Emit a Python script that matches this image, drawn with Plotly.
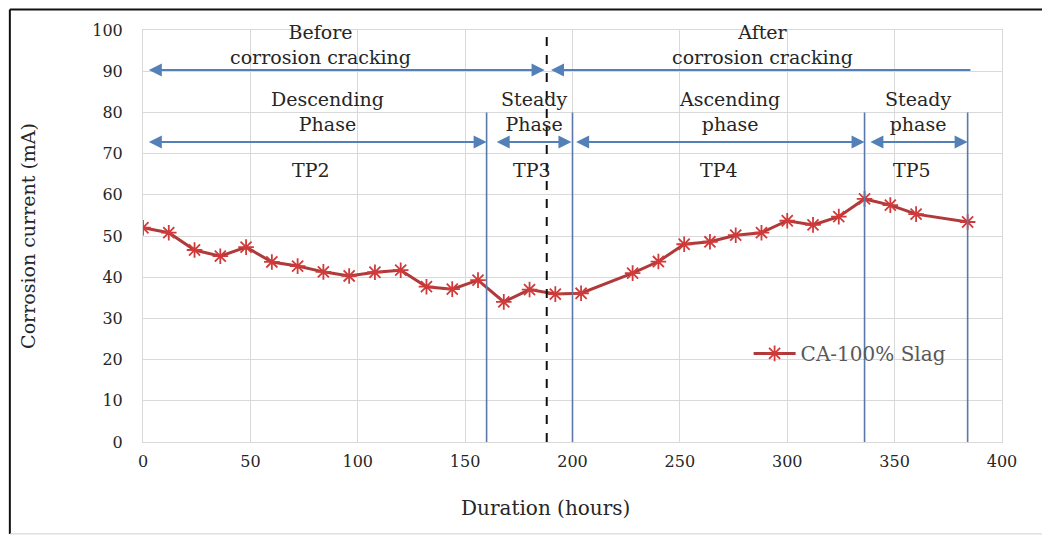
import plotly.graph_objects as go

# ---- data ----
hours = [0, 12, 24, 36, 48, 60, 72, 84, 96, 108, 120, 132, 144, 156, 168, 180,
         192, 204, 228, 240, 252, 264, 276, 288, 300, 312, 324, 336, 348, 360, 384]
current = [52.0, 50.8, 46.6, 45.1, 47.3, 43.7, 42.7, 41.3, 40.3, 41.2, 41.7, 37.7,
           37.1, 39.3, 34.0, 37.0, 35.9, 36.1, 41.0, 43.8, 48.0, 48.6, 50.2, 50.8,
           53.7, 52.7, 54.7, 59.0, 57.5, 55.3, 53.4]
series_name = "CA-100% Slag"
x_ticks = [0, 50, 100, 150, 200, 250, 300, 350, 400]
y_ticks = [0, 10, 20, 30, 40, 50, 60, 70, 80, 90, 100]
phase_bounds = [160, 200, 336, 384]
crack_time = 188

FONT = "DejaVu Serif"
TXT = "#262626"
BLUE = "#5480B8"
LINE_RED = "#B03A3A"

fig = go.Figure()
fig.add_trace(go.Scatter(
    x=hours, y=current, mode="lines+markers", name=series_name,
    line=dict(color=LINE_RED, width=3),
    marker=dict(symbol="asterisk-open", size=13, color="#D03A3A",
                line=dict(color="#D03A3A", width=1.8)),
))

shapes = []
for b in phase_bounds:
    shapes.append(dict(type="line", xref="x", yref="y", x0=b, x1=b, y0=0, y1=80,
                       line=dict(color="#5A78A8", width=1.6)))
shapes.append(dict(type="line", xref="x", yref="y", x0=crack_time, x1=crack_time,
                   y0=0, y1=100, line=dict(color="#111111", width=2, dash="dash")))
# outer frame (figure border)
shapes.append(dict(type="line", xref="paper", yref="paper", x0=-0.155, x1=-0.155,
                   y0=-0.223, y1=1.05, line=dict(color="#111111", width=2)))
shapes.append(dict(type="line", xref="paper", yref="paper", x0=-0.155, x1=1.07,
                   y0=1.05, y1=1.05, line=dict(color="#111111", width=2)))
shapes.append(dict(type="line", xref="paper", yref="paper", x0=-0.155, x1=1.07,
                   y0=-0.223, y1=-0.223, line=dict(color="#D0D0D0", width=1)))

annotations = []

def arrow(x_head, x_tail, y, both=True):
    annotations.append(dict(
        x=x_head, y=y, ax=x_tail, ay=y, xref="x", yref="y", axref="x", ayref="y",
        text="", showarrow=True, arrowhead=2, arrowsize=1.3, arrowwidth=2,
        arrowcolor=BLUE, arrowside="end+start" if both else "end",
        startarrowhead=2, startarrowsize=1.3, standoff=0, startstandoff=0))

arrow(187, 2, 90.3)
arrow(190, 386, 90.3, both=False)
arrow(160, 2, 72.8)
arrow(199.5, 164, 72.8)
arrow(336, 201, 72.8)
arrow(384, 338, 72.8)

def label(x, y, text):
    annotations.append(dict(x=x, y=y, xref="x", yref="y", text=text, showarrow=False,
                            font=dict(family=FONT, size=19, color=TXT),
                            align="center", xanchor="center", yanchor="middle"))

label(82.5, 96.4, "Before<br>corrosion cracking")
label(288.5, 96.4, "After<br>corrosion cracking")
label(86, 80.2, "Descending<br>Phase")
label(182, 80.2, "Steady<br>Phase")
label(273, 80.2, "Ascending<br>phase")
label(361, 80.2, "Steady<br>phase")
label(78, 66, "TP2")
label(181, 66, "TP3")
label(268, 66, "TP4")
label(358, 66, "TP5")

# axis titles
annotations.append(dict(x=-0.134, y=0.5, xref="paper", yref="paper",
                        xanchor="center", yanchor="middle",
                        text="Corrosion current (mA)", textangle=-90, showarrow=False,
                        font=dict(family=FONT, size=19, color=TXT)))
annotations.append(dict(x=0.468, y=-0.160, xref="paper", yref="paper",
                        xanchor="center", yanchor="middle",
                        text="Duration (hours)", showarrow=False,
                        font=dict(family=FONT, size=20, color=TXT)))

fig.update_layout(
    width=1042, height=528,
    margin=dict(l=135, r=48, t=22, b=94),
    paper_bgcolor="white", plot_bgcolor="white",
    font=dict(family=FONT, color=TXT, size=16),
    shapes=shapes, annotations=annotations,
    showlegend=True,
    legend=dict(x=0.705, y=0.215, xanchor="left", yanchor="middle",
                bgcolor="rgba(0,0,0,0)", font=dict(family=FONT, size=20, color="#595959"),
                itemwidth=42),
    xaxis=dict(range=[0, 400], tickvals=x_ticks, showgrid=True, gridcolor="#D9D9D9",
               gridwidth=1, zeroline=False, showline=True, linecolor="#D9D9D9",
               mirror=True, ticks="", ticklabelstandoff=5,
               tickfont=dict(family=FONT, size=16, color=TXT)),
    yaxis=dict(range=[0, 100], tickvals=y_ticks, showgrid=True, gridcolor="#D9D9D9",
               gridwidth=1, zeroline=False, showline=True, linecolor="#D9D9D9",
               mirror=True, ticks="", tickfont=dict(family=FONT, size=16, color=TXT),
               ticklabelstandoff=16),
)

fig.write_html("out.html")
